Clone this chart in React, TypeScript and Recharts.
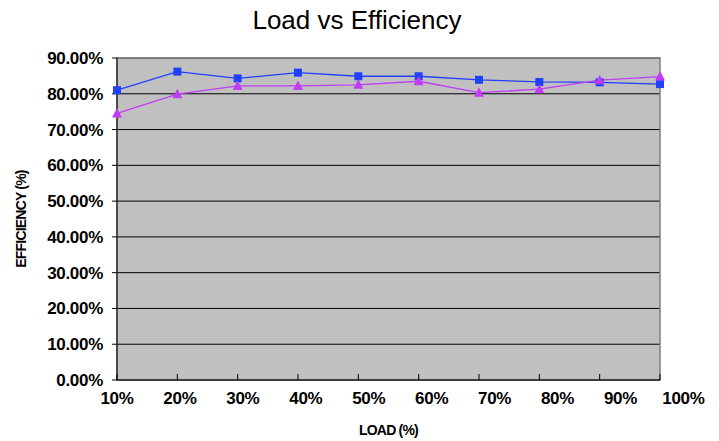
import { LineChart, Line, XAxis, YAxis, CartesianGrid, ReferenceArea } from 'recharts';

const loadLabels = ['10%', '20%', '30%', '40%', '50%', '60%', '70%', '80%', '90%', '100%'];
const seriesA = [81.0, 86.2, 84.3, 85.9, 84.9, 84.9, 83.9, 83.3, 83.2, 82.7];
const seriesB = [74.5, 79.9, 82.2, 82.2, 82.5, 83.5, 80.3, 81.3, 83.8, 84.8];
const yTicks = [0, 10, 20, 30, 40, 50, 60, 70, 80, 90];

const data = loadLabels.map((name, i) => ({ name, a: seriesA[i], b: seriesB[i] }));

const BLUE = '#1f40ff';
const PURPLE = '#c03cf5';
const tickFont = { fontFamily: 'Liberation Sans, Arial, sans-serif', fontWeight: 700, fontSize: 17, fill: '#000' };

const SquareDot = (props: any) => {
  const { cx, cy, index } = props;
  return <rect key={`sq-${index}`} x={cx - 4} y={cy - 4} width={8} height={8} fill={BLUE} />;
};

const TriangleDot = (props: any) => {
  const { cx, cy, index } = props;
  return (
    <polygon
      key={`tr-${index}`}
      points={`${cx},${cy - 5.5} ${cx - 5},${cy + 4} ${cx + 5},${cy + 4}`}
      fill={PURPLE}
    />
  );
};

// excel spread the labels a bit wider than the ticks
const XTick = (props: any) => {
  const { x, y, payload, index } = props;
  return (
    <g>
      <line x1={x} y1={y - 6} x2={x} y2={y} stroke="#000" />
      <text x={x + index * 2.6} y={y + 24} textAnchor="middle" {...tickFont} letterSpacing={-0.3}>
        {payload.value}
      </text>
    </g>
  );
};

export default function App() {
  return (
    <div style={{ position: 'absolute', left: 0, top: 0, width: 719, height: 441, background: '#fff' }}>
      <div
        style={{
          position: 'absolute',
          left: 0,
          top: 7,
          width: 714,
          textAlign: 'center',
          fontFamily: 'Liberation Sans, Arial, sans-serif',
          fontSize: 26,
          lineHeight: '26px',
          color: '#000',
        }}
      >
        Load vs Efficiency
      </div>
      <LineChart width={719} height={441} data={data} margin={{ top: 58, right: 59, left: 0, bottom: 0 }}>
        <CartesianGrid vertical={false} stroke="#000" fill="#c0c0c0" fillOpacity={1} />
        <XAxis
          dataKey="name"
          height={61}
          tickSize={0}
          tickMargin={0}
          interval={0}
          axisLine={{ stroke: '#000' }}
          tick={XTick}
          label={{
            content: (p: any) => (
              <text
                x={p.viewBox.x + p.viewBox.width / 2}
                y={435}
                textAnchor="middle"
                fontFamily="Liberation Sans, Arial, sans-serif"
                fontWeight={700}
                fontSize={14}
                letterSpacing={-0.8}
              >
                LOAD (%)
              </text>
            ),
          }}
        />
        <YAxis
          width={117}
          domain={[0, 90]}
          ticks={yTicks}
          interval={0}
          tickSize={5}
          tickMargin={9}
          axisLine={{ stroke: '#000' }}
          tickLine={{ stroke: '#000' }}
          tick={{ ...tickFont, letterSpacing: -0.3 }}
          tickFormatter={(v: number) => `${v.toFixed(2)}%`}
          label={{
            content: (p: any) => {
              const cy = p.viewBox.y + p.viewBox.height / 2;
              return (
                <text
                  x={21}
                  y={cy}
                  transform={`rotate(-90, 21, ${cy})`}
                  textAnchor="middle"
                  dominantBaseline="central"
                  fontFamily="Liberation Sans, Arial, sans-serif"
                  fontWeight={700}
                  fontSize={14}
                  letterSpacing={-0.8}
                >
                  EFFICIENCY (%)
                </text>
              );
            },
          }}
        />
        <ReferenceArea x1="10%" x2="100%" y1={0} y2={90} fill="none" stroke="#808080" strokeWidth={1.5} ifOverflow="visible" />
        <Line
          type="linear"
          dataKey="a"
          stroke={BLUE}
          strokeWidth={1.3}
          dot={SquareDot}
          activeDot={false}
          isAnimationActive={false}
        />
        <Line
          type="linear"
          dataKey="b"
          stroke={PURPLE}
          strokeWidth={1.3}
          dot={TriangleDot}
          activeDot={false}
          isAnimationActive={false}
        />
      </LineChart>
    </div>
  );
}
